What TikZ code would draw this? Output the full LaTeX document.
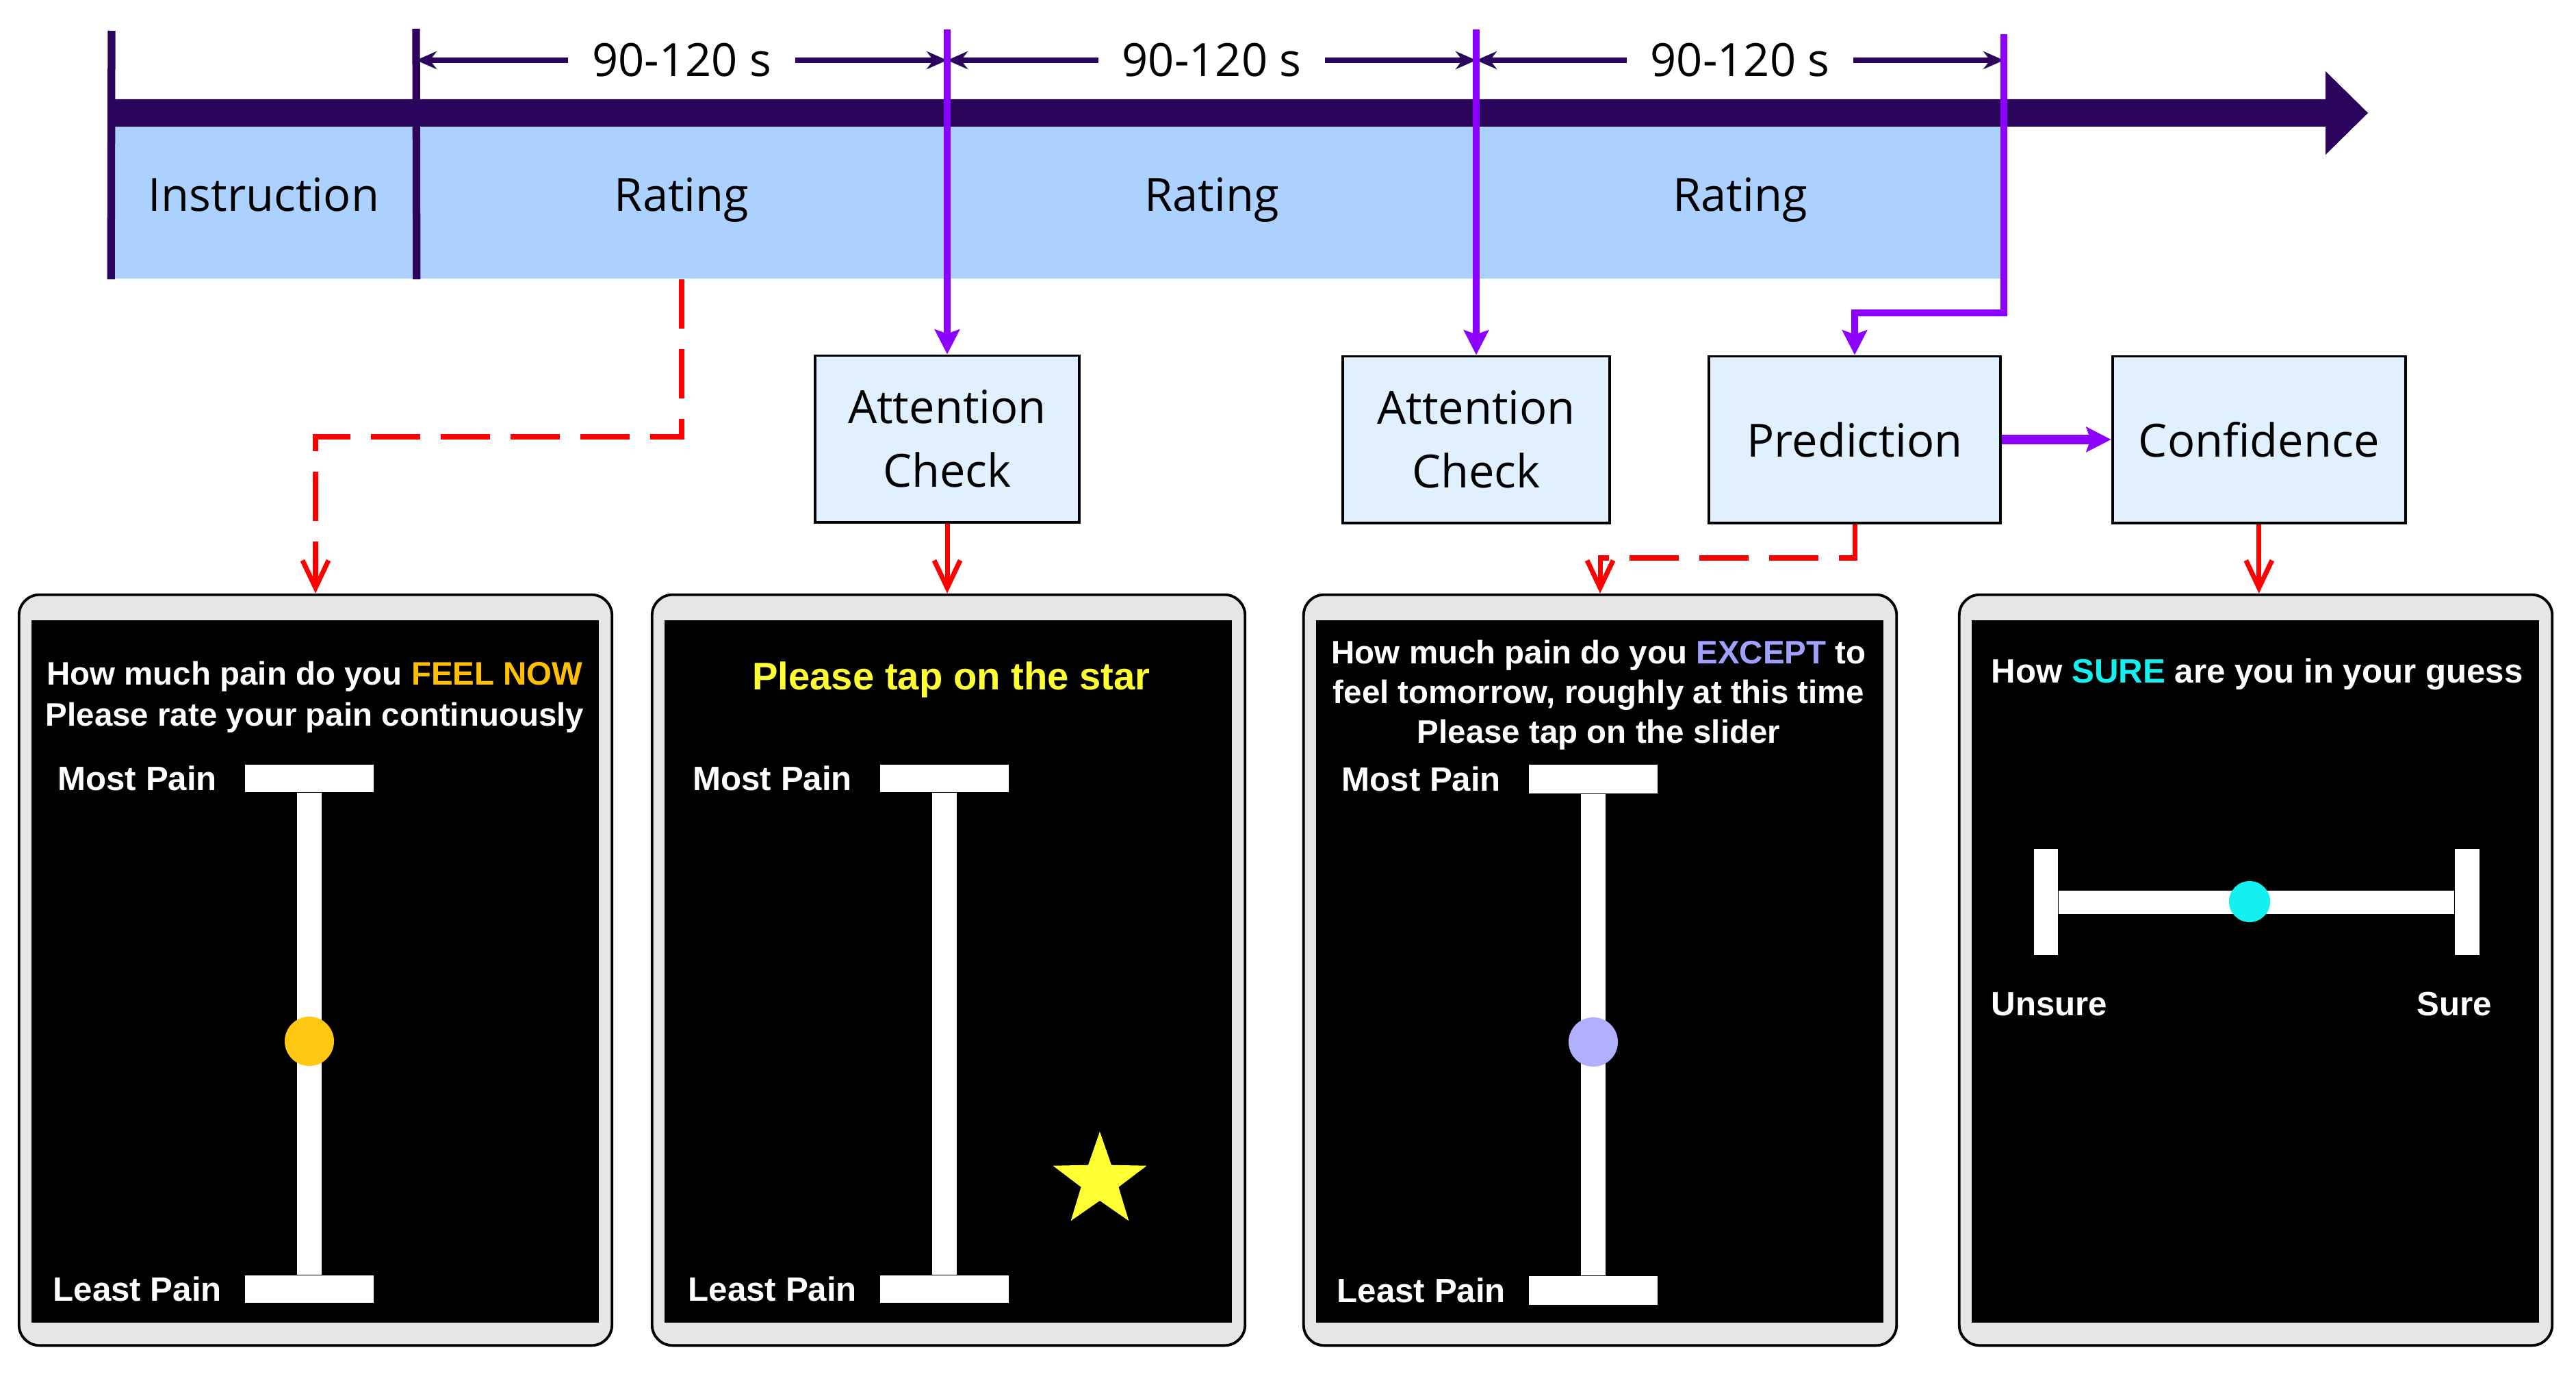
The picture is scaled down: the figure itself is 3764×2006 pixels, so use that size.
\documentclass[tikz,border=0pt]{standalone}
\usepackage{fontspec}
\setmainfont{Liberation Sans}
\newfontfamily\labelfont{Open Sans}
\usepackage{tikz}
\usetikzlibrary{calc,positioning,arrows.meta,shapes.geometric}

\definecolor{tlnavy}{RGB}{43,4,92}
\definecolor{tlblue}{RGB}{173,209,255}
\definecolor{boxblue}{RGB}{224,240,255}
\definecolor{tickpurple}{RGB}{140,0,255}
\definecolor{screengray}{RGB}{230,230,230}
\definecolor{feelgold}{RGB}{255,192,0}
\definecolor{knobgold}{RGB}{255,200,16}
\definecolor{expectlav}{RGB}{160,160,255}
\definecolor{knoblav}{RGB}{176,176,255}
\definecolor{sureaqua}{RGB}{20,240,240}
\definecolor{staryellow}{RGB}{255,255,50}

\begin{document}
\begin{tikzpicture}[x=0.01cm, y=-0.01cm,
        phase/.style={fill=tlblue, inner sep=0pt, minimum height=2.22cm, text height=0.95em, text depth=0.24em, font=\labelfont\fontsize{19}{25}\selectfont},
        stagebox/.style={draw=black, line width=1.1pt, fill=boxblue, minimum height=2.43cm, align=center, inner sep=0pt, font=\labelfont\fontsize{19}{26.5}\selectfont},
        phaseline/.style={line width=3.2pt},
        spanarrow/.style={tlnavy, line width=2pt, {Stealth[length=0.3cm,width=0.26cm]}-{Stealth[length=0.3cm,width=0.26cm]}},
        cue/.style={tickpurple, line width=3pt, -{Stealth[length=0.36cm,width=0.36cm,inset=0.06cm]}},
        probe/.style={red, line width=2pt, -{Straight Barb[length=0.4cm,width=0.38cm]}},
        probedash/.style={probe, dash pattern=on 0.72cm off 0.3cm},
        tablet/.style={draw=black, line width=1.1pt, fill=screengray, rounded corners=0.3cm, minimum width=8.66cm, minimum height=10.96cm, inner sep=0pt},
        prompt/.style={text=white, align=center, inner sep=0pt, font=\bfseries\fontsize{13.5}{17}\selectfont},
        scalelabel/.style={text=white, inner sep=0pt, font=\bfseries\fontsize{14}{16}\selectfont},
        sliderbar/.style={fill=white, inner sep=0pt},
        knob/.style={circle, inner sep=0pt, minimum size=0.72cm}
    ]
        \useasboundingbox (0,0) rectangle (3764,2006);

        \node (instr) [phase, minimum width=4.45cm] at (385.5,296) {Instruction};
        \node (rate1) [phase, minimum width=7.76cm] at (996,296) {Rating};
        \node (rate2) [phase, minimum width=7.73cm] at (1770.5,296) {Rating};
        \node (rate3) [phase, minimum width=7.71cm] at (2542.5,296) {Rating};
        \fill[tlnavy] (163,145) -- (3398,145) -- (3398,104) -- (3460,165) -- (3398,226) -- (3398,185) -- (163,185) -- cycle;

        \coordinate (t0) at (163,45);
        \coordinate (t1) at (608,42);
        \coordinate (t2) at (1384,43);
        \coordinate (t3) at (2157,43);
        \coordinate (t4) at (2928,50);
        \draw[phaseline, tlnavy] (t0) -- (instr.south west);
        \draw[phaseline, tlnavy] (t1) -- (instr.south east);

        \coordinate (s1) at (608,88);
        \coordinate (s2) at (1384,88);
        \coordinate (s3) at (2157,88);
        \coordinate (s4) at (2928,88);
        \draw[spanarrow] (s1) -- node (d1) [fill=white, inner xsep=0.35cm, inner ysep=0pt, text=black, font=\labelfont\fontsize{19}{25}\selectfont] {90-120 s} (s2);
        \draw[spanarrow] (s2) -- node (d2) [fill=white, inner xsep=0.35cm, inner ysep=0pt, text=black, font=\labelfont\fontsize{19}{25}\selectfont] {90-120 s} (s3);
        \draw[spanarrow] (s3) -- node (d3) [fill=white, inner xsep=0.35cm, inner ysep=0pt, text=black, font=\labelfont\fontsize{19}{25}\selectfont] {90-120 s} (s4);

        \node (attn1) [stagebox, minimum width=3.86cm] at (1384,641) {Attention\\Check};
        \node (attn2) [stagebox, minimum width=3.9cm] at (2157,642) {Attention\\Check};
        \node (pred) [stagebox, minimum width=4.25cm] at (2710,642) {Prediction};
        \node (conf) [stagebox, minimum width=4.28cm, right=1.6cm of pred] {Confidence};

        \draw[cue] (t2) -- (attn1.north);
        \draw[cue] (t3) -- (attn2.north);
        \coordinate (predturn) at (2928,457);
        \draw[cue] (t4) -- (predturn) -| (pred.north);
        \draw[cue, line width=4pt] (pred) -- (conf);

        \node (scr1) [tablet] at (461,1417) {};
        \node (scr2) [tablet] at (1386,1417) {};
        \node (scr3) [tablet] at (2338,1417) {};
        \node (scr4) [tablet] at (3296,1417) {};
        \foreach \s in {scr1,scr2,scr3,scr4}
            \fill[black] ($(\s.north west)+(20,39)$) rectangle ($(\s.south east)+(-21,-35)$);

        \coordinate (rateturn) at (996,638);
        \draw[probedash] (rate1.south) -- (rateturn) -| (scr1.north);
        \draw[probe] (attn1.south) -- (attn1.south |- scr2.north);
        \coordinate (predturnb) at (2710,815);
        \draw[probedash] (pred.south) -- (predturnb) -| (scr3.north);
        \draw[probe] (conf.south) -- (conf.south |- scr4.north);

        \node (ask1) [prompt] at (460,1018) {How much pain do you \textcolor{feelgold}{FEEL NOW}\\Please rate your pain continuously};
        \node (top1) [sliderbar, minimum width=1.87cm, minimum height=0.4cm] at (452,1137) {};
        \node (bot1) [sliderbar, minimum width=1.87cm, minimum height=0.4cm] at (452,1883) {};
        \draw[white, line width=0.36cm] (top1.south) -- (bot1.north);
        \node (dot1) [knob, fill=knobgold] at (452,1521) {};
        \node (most1) [scalelabel, left=0.4cm of top1] {Most Pain};
        \node (least1) [scalelabel, left=0.33cm of bot1] {Least Pain};

        \node (ask2) [prompt, text=staryellow, font=\bfseries\fontsize{16}{19}\selectfont] at (1390,993) {Please tap on the star};
        \node (top2) [sliderbar, minimum width=1.87cm, minimum height=0.4cm] at (1380,1137) {};
        \node (bot2) [sliderbar, minimum width=1.87cm, minimum height=0.4cm] at (1380,1883) {};
        \draw[white, line width=0.36cm] (top2.south) -- (bot2.north);
        \node (most2) [scalelabel, left=0.4cm of top2] {Most Pain};
        \node (least2) [scalelabel, left=0.33cm of bot2] {Least Pain};
        \node (target) [star, star points=5, star point ratio=2.5, fill=staryellow, inner sep=0pt, minimum size=1.44cm] at (1607,1725) {};

        \node (ask3) [prompt, font=\bfseries\fontsize{13.5}{16.5}\selectfont] at (2336,1015) {How much pain do you \textcolor{expectlav}{EXCEPT} to\\feel tomorrow, roughly at this time\\Please tap on the slider};
        \node (top3) [sliderbar, minimum width=1.87cm, minimum height=0.42cm] at (2328,1138) {};
        \node (bot3) [sliderbar, minimum width=1.87cm, minimum height=0.42cm] at (2328,1885) {};
        \draw[white, line width=0.36cm] (top3.south) -- (bot3.north);
        \node (dot3) [knob, fill=knoblav] at (2328,1522) {};
        \node (most3) [scalelabel, left=0.4cm of top3] {Most Pain};
        \node (least3) [scalelabel, left=0.33cm of bot3] {Least Pain};

        \node (ask4) [prompt, font=\bfseries\fontsize{14}{17}\selectfont] at (3298,985) {How \textcolor{sureaqua}{SURE} are you in your guess};
        \node (lend) [sliderbar, minimum width=0.35cm, minimum height=1.55cm] at (2989.5,1317.5) {};
        \node (rend) [sliderbar, minimum width=0.36cm, minimum height=1.55cm] at (3605,1317.5) {};
        \draw[white, line width=0.34cm] (lend) -- (rend);
        \node (dot4) [knob, fill=sureaqua, minimum size=0.6cm] at (3287,1317) {};
        \node (unsure) [scalelabel, anchor=west] at (2909,1467) {Unsure};
        \node (sure) [scalelabel, anchor=east] at (3642,1467) {Sure};
    \end{tikzpicture}
\end{document}
